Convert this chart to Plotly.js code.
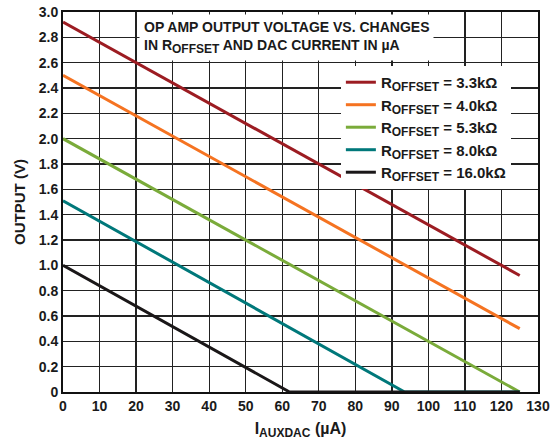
<!DOCTYPE html>
<html>
<head>
<meta charset="utf-8">
<script src="https://cdn.plot.ly/plotly-3.0.1.min.js"></script>
<style>html,body{margin:0;padding:0;background:#fff;}#chart{width:554px;height:443px;}</style>
</head>
<body>
<div id="chart"></div>
<script>
const subOff = '<sub><span style="font-size:12px">OFFSET</span></sub>';
const seriesNames = ["R" + subOff + " = 3.3kΩ","R" + subOff + " = 4.0kΩ","R" + subOff + " = 5.3kΩ","R" + subOff + " = 8.0kΩ","R" + subOff + " = 16.0kΩ"];
const seriesColors = ["#9c1c22","#f57321","#7aab3a","#00787a","#1a1718"];
const x33 = [0, 125];
const y33 = [2.92, 0.92];
const x40 = [0, 125];
const y40 = [2.50, 0.50];
const x53 = [0, 125];
const y53 = [2.00, 0.00];
const x80 = [0, 93.5, 125];
const y80 = [1.51, 0.00, 0.00];
const x160 = [0, 62, 125];
const y160 = [1.00, 0.00, 0.00];
const xTicks = [0,10,20,30,40,50,60,70,80,90,100,110,120,130];
const yTickVals = [0,0.2,0.4,0.6,0.8,1.0,1.2,1.4,1.6,1.8,2.0,2.2,2.4,2.6,2.8,3.0];
const yTickText = ["0","0.2","0.4","0.6","0.8","1.0","1.2","1.4","1.6","1.8","2.0","2.2","2.4","2.6","2.8","3.0"];

const xs = [x33,x40,x53,x80,x160];
const ys = [y33,y40,y53,y80,y160];
const traces = xs.map((x,i)=>({
  x: x, y: ys[i], type:'scatter', mode:'lines', name: seriesNames[i],
  line:{color: seriesColors[i], width:3}
}));
const fontFam = '"Liberation Sans", Arial, Helvetica, sans-serif';
const layout = {
  width:554, height:443,
  margin:{l:63, r:16, t:12, b:51},
  paper_bgcolor:'#fff', plot_bgcolor:'#fff',
  font:{family:fontFam, size:13, color:'#1a1a1a', weight:'bold'},
  showlegend:true,
  legend:{x:0.585, y:0.858, xanchor:'left', yanchor:'top', bgcolor:'#fff', borderwidth:0,
    font:{family:fontFam, size:15, color:'#1a1a1a', weight:'bold'}, tracegroupgap:0},
  xaxis:{range:[0,130], tickvals:xTicks, ticktext:xTicks.map(String), showgrid:true, gridcolor:'#222', gridwidth:1.3,
    showline:true, linecolor:'#111', linewidth:2, mirror:true, ticks:'', zeroline:false,
    tickfont:{size:14, weight:'bold'},
    title:{text:'I<sub><span style="font-size:12px">AUXDAC</span></sub> (µA)', font:{size:16, weight:'bold'}, standoff:10}},
  yaxis:{range:[0,3.0], tickvals:yTickVals, ticktext:yTickText, showgrid:true, gridcolor:'#222', gridwidth:1.3,
    showline:true, linecolor:'#111', linewidth:2, mirror:true, ticks:'', zeroline:false,
    tickfont:{size:14, weight:'bold'},
    title:{text:'OUTPUT (V)', font:{size:15, weight:'bold'}, standoff:9}},
  annotations:[{
    xref:'paper', yref:'paper', x:0.16, y:0.995, xanchor:'left', yanchor:'top', align:'left',
    text:'OP AMP OUTPUT VOLTAGE VS. CHANGES<br>IN R<sub><span style="font-size:12px">OFFSET</span></sub> AND DAC CURRENT IN µA',
    showarrow:false, bgcolor:'#fff', borderpad:4,
    font:{family:fontFam, size:14, color:'#1a1a1a', weight:'bold'}
  }]
};
Plotly.newPlot('chart', traces, layout, {displayModeBar:false, staticPlot:true});
</script>
</body>
</html>
